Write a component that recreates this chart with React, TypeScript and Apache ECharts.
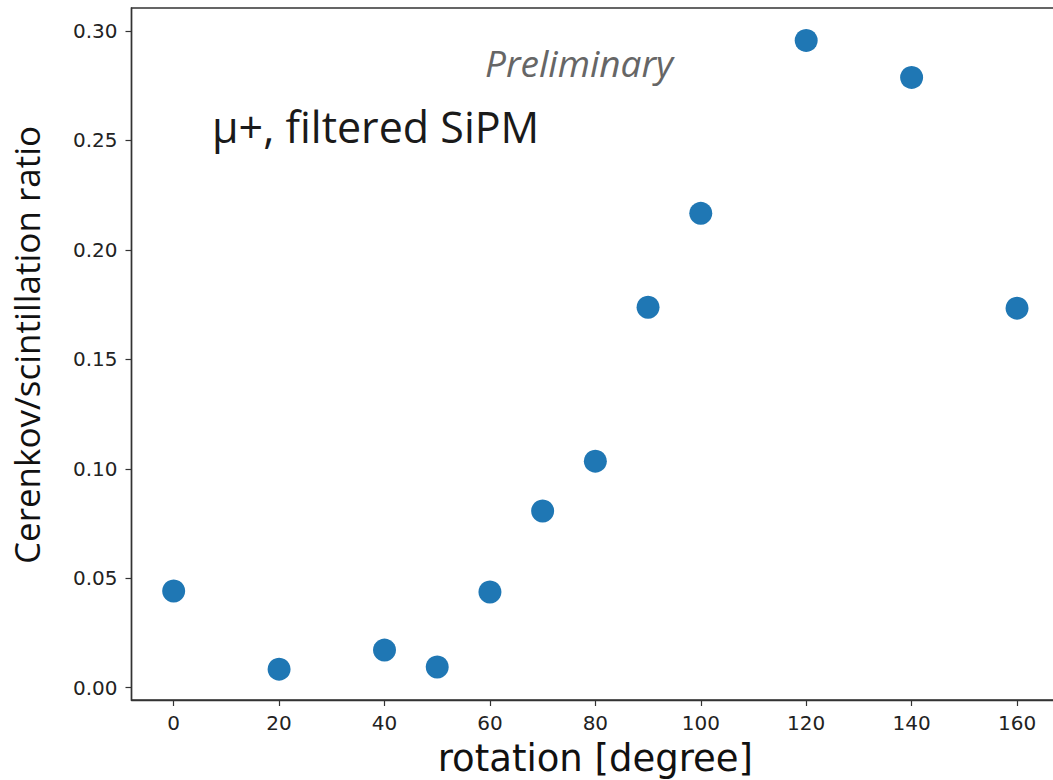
import React, { useEffect, useRef } from "react";
import * as echarts from "echarts";

const rotation = [0, 20, 40, 50, 60, 70, 80, 90, 100, 120, 140, 160];
const ratio = [0.0442, 0.0085, 0.0172, 0.0095, 0.0437, 0.0807, 0.1035, 0.1738, 0.2167, 0.2957, 0.2788, 0.1734];
const xTicks = [0, 20, 40, 60, 80, 100, 120, 140, 160];
const yTicks = [0, 0.05, 0.1, 0.15, 0.2, 0.25, 0.3];

const xTitle = "rotation [degree]";
const yTitle = "Cerenkov/scintillation ratio";
const annotation = "μ+, filtered SiPM";
const stamp = "Preliminary";

export default function App() {
  const ref = useRef<HTMLDivElement>(null);
  useEffect(() => {
    if (!ref.current) return;
    const chart = echarts.init(ref.current, null, { renderer: "svg" });
    const tickFont = { fontFamily: "DejaVu Sans", fontSize: 20, color: "#222" };
    chart.setOption({
      animation: false,
      backgroundColor: "#ffffff",
      grid: {
        left: 131.5,
        top: 8,
        right: -6.2,
        bottom: 80,
        show: true,
        borderColor: "#333",
        borderWidth: 1.4,
        backgroundColor: "transparent",
        containLabel: false,
        outerBoundsMode: "none",
      },
      xAxis: {
        type: "value",
        min: -8,
        max: 168,
        name: xTitle,
        nameLocation: "middle",
        nameGap: 40,
        nameTextStyle: { fontFamily: "DejaVu Sans", fontSize: 37, color: "#111" },
        axisLine: { show: true, onZero: false, lineStyle: { color: "#333", width: 1.4 } },
        axisTick: { show: true, length: 6, customValues: xTicks, lineStyle: { color: "#333", width: 1.2 } },
        axisLabel: { ...tickFont, margin: 13, customValues: xTicks, formatter: (v: number) => String(v) },
        splitLine: { show: false },
      },
      yAxis: {
        type: "value",
        min: -0.0056,
        max: 0.3105,
        name: yTitle,
        nameLocation: "middle",
        nameGap: 88,
        nameRotate: 90,
        nameTextStyle: { fontFamily: "Open Sans", fontSize: 35, color: "#111", padding: [0, 0, 0, 18] },
        axisLine: { show: true, onZero: false, lineStyle: { color: "#333", width: 1.4 } },
        axisTick: { show: true, length: 6, customValues: yTicks, lineStyle: { color: "#333", width: 1.2 } },
        axisLabel: { ...tickFont, margin: 14, customValues: yTicks, formatter: (v: number) => v.toFixed(2) },
        splitLine: { show: false },
      },
      series: [
        {
          type: "scatter",
          data: rotation.map((r, i) => [r, ratio[i]]),
          symbol: "circle",
          symbolSize: 23,
          itemStyle: { color: "#1f77b4", opacity: 1 },
        },
      ],
      graphic: [
        {
          type: "text",
          left: 212,
          top: 105,
          style: { text: annotation, fontFamily: "Open Sans", fontSize: 43, fill: "#1a1a1a" },
        },
        {
          type: "text",
          left: 485,
          top: 44,
          style: { text: stamp, fontFamily: "Open Sans", fontStyle: "italic", fontSize: 37, fill: "#666" },
        },
      ],
    });
    return () => chart.dispose();
  }, []);
  return <div ref={ref} style={{ position: "absolute", left: 0, top: 0, width: 1053, height: 780 }} />;
}
